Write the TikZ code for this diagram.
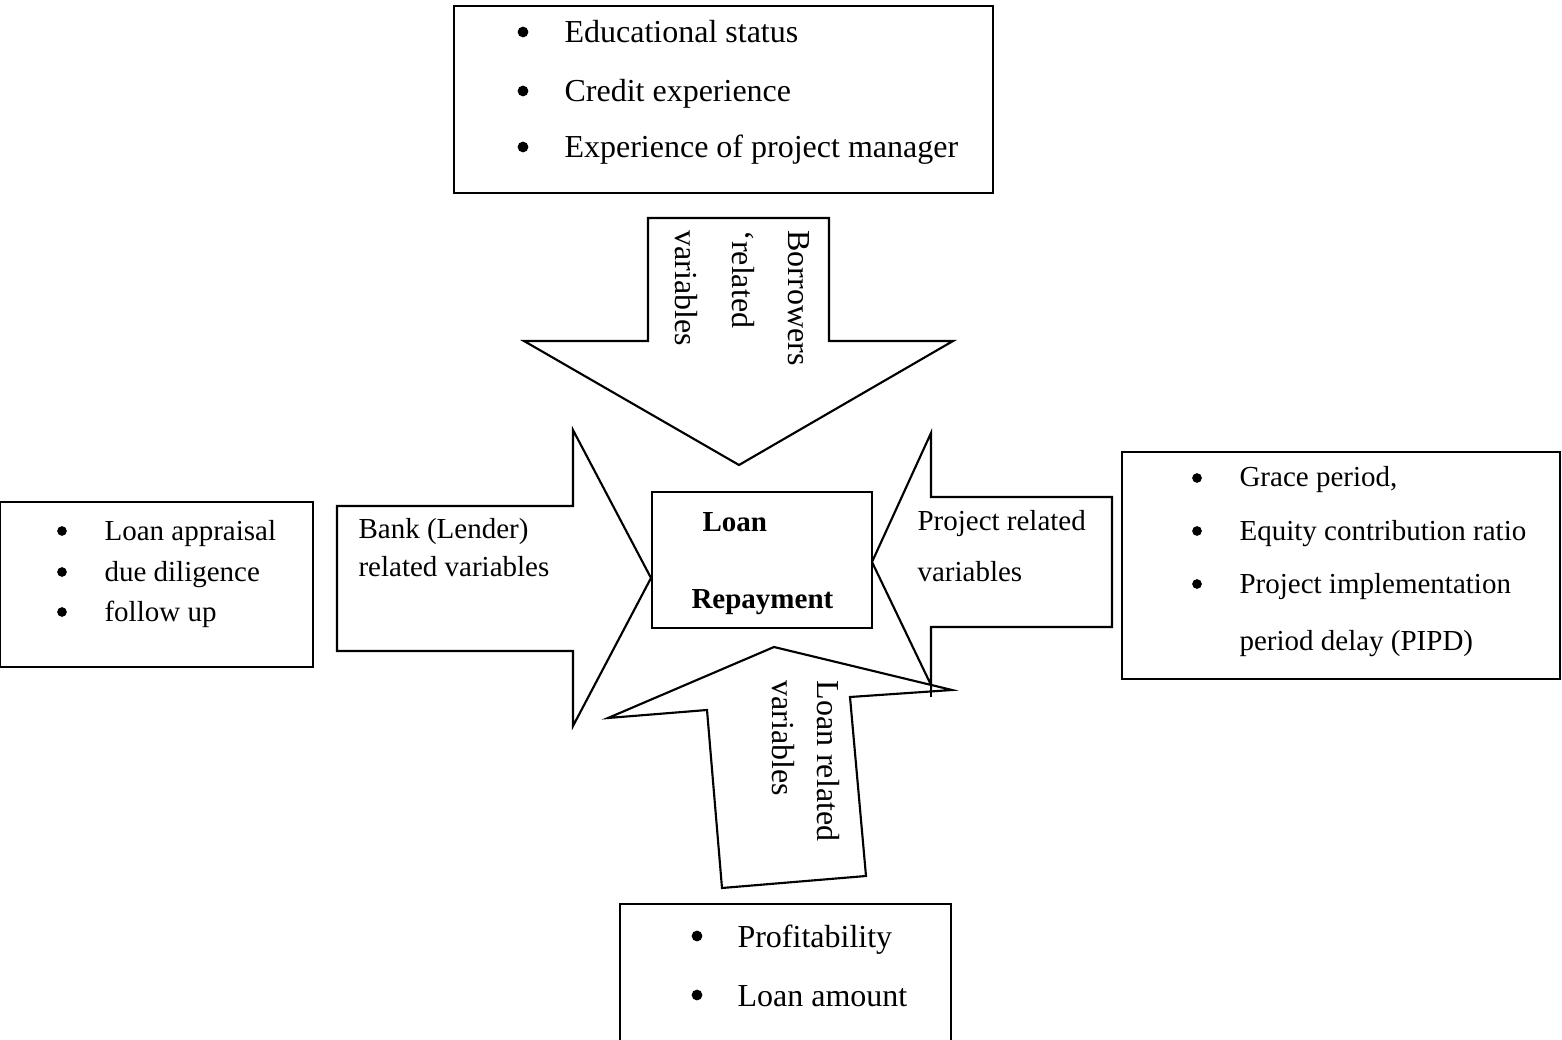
\documentclass[tikz,border=0pt]{standalone}
\usepackage{fontspec}
\setmainfont{Liberation Serif}
\usetikzlibrary{fit}
\begin{document}
\begin{tikzpicture}[x=0.375pt,y=-0.375pt,
  box/.style={draw, line width=1.1pt, inner sep=0pt},
  arrowshape/.style={draw, line width=0.8pt, line join=miter},
  big/.style={font=\fontsize{12}{14}\selectfont, inner sep=0pt},
  small/.style={font=\fontsize{10.875}{13}\selectfont, inner sep=0pt},
  bold/.style={font=\fontsize{10.875}{13}\selectfont\bfseries, inner sep=0pt},
  bulbig/.style={circle, draw=black, fill=black, line width=0.4pt, inner sep=0pt, minimum size=3.6pt},
  bulsmall/.style={circle, draw=black, fill=black, line width=0.4pt, inner sep=0pt, minimum size=3.2pt}]
\useasboundingbox (0,0) rectangle (1562,1040);

% boxes
\node[box, fit={(454,6) (993,193)}] (topbox) {};
\node[box, fit={(0,502) (313,667)}] (leftbox) {};
\node[box, fit={(1122,452) (1560,679)}] (rightbox) {};
\node[box, fit={(620,904) (951,1046)}] (botbox) {};
\node[box, fit={(652,492) (872,628)}] (center) {};

% arrows
\draw[arrowshape] (648,218) -- (829,218) -- (829,341) -- (953,341) -- (739,465) -- (524,341) -- (648,341) -- cycle;
\draw[arrowshape] (337,506) -- (573,506) -- (573,430) -- (651,578) -- (573,726) -- (573,651) -- (337,651) -- cycle;
\draw[arrowshape] (872,562) -- (931,433) -- (931,497) -- (1112,497) -- (1112,627) -- (931,627) -- (931,685) -- cycle;
\draw[arrowshape] (931,685) -- (931,697);
\draw[arrowshape] (774,647) -- (952,690) -- (850,697) -- (866,876) -- (722,888) -- (707,710) -- (608,718) -- cycle;

% top box text
\node[bulbig] (tb1) at (523,32) {};
\node[bulbig] (tb2) at (523,91) {};
\node[bulbig] (tb3) at (523,147) {};
\node[big, anchor=base west] (tt1) at (564,43) {Educational status};
\node[big, anchor=base west] (tt2) at (564,102) {Credit experience};
\node[big, anchor=base west] (tt3) at (564,158) {Experience of project manager};

% left box text
\node[bulsmall] (lb1) at (62,531) {};
\node[bulsmall] (lb2) at (62,572) {};
\node[bulsmall] (lb3) at (62,612) {};
\node[small, anchor=base west] (lt1) at (104,540) {Loan appraisal};
\node[small, anchor=base west] (lt2) at (104,581) {due diligence};
\node[small, anchor=base west] (lt3) at (104,621) {follow up};

% right box text
\node[bulsmall] (rb1) at (1197,478) {};
\node[bulsmall] (rb2) at (1197,531) {};
\node[bulsmall] (rb3) at (1197,584) {};
\node[small, anchor=base west] (rt1) at (1239,487) {Grace period,};
\node[small, anchor=base west] (rt2) at (1239,540) {Equity contribution ratio};
\node[small, anchor=base west] (rt3) at (1239,593) {Project implementation};
\node[small, anchor=base west] (rt4) at (1239,650) {period delay (PIPD)};

% bottom box text
\node[bulbig] (bb1) at (697,936) {};
\node[bulbig] (bb2) at (697,995) {};
\node[big, anchor=base west] (bt1) at (737,947) {Profitability};
\node[big, anchor=base west] (bt2) at (737,1006) {Loan amount};

% center text
\node[bold, anchor=base west] (c1) at (702,531) {Loan};
\node[bold, anchor=base west] (c2) at (691,608) {Repayment};

% arrow labels
\node[small, anchor=base west] (bank1) at (358,538) {Bank (Lender)};
\node[small, anchor=base west] (bank2) at (358,577) {related variables};
\node[small, anchor=base west] (proj1) at (917,530) {Project related};
\node[small, anchor=base west] (proj2) at (917,582) {variables};

\node[big, anchor=base west, rotate=-90] (bor1) at (788,230) {Borrowers};
\node[big, anchor=base west, rotate=-90] (bor2) at (732,230) {‘related};
\node[big, anchor=base west, rotate=-90] (bor3) at (675,230) {variables};

\node[big, anchor=base west, rotate=-90] (loan1) at (817,680) {Loan related};
\node[big, anchor=base west, rotate=-90] (loan2) at (772,680) {variables};
\end{tikzpicture}
\end{document}
